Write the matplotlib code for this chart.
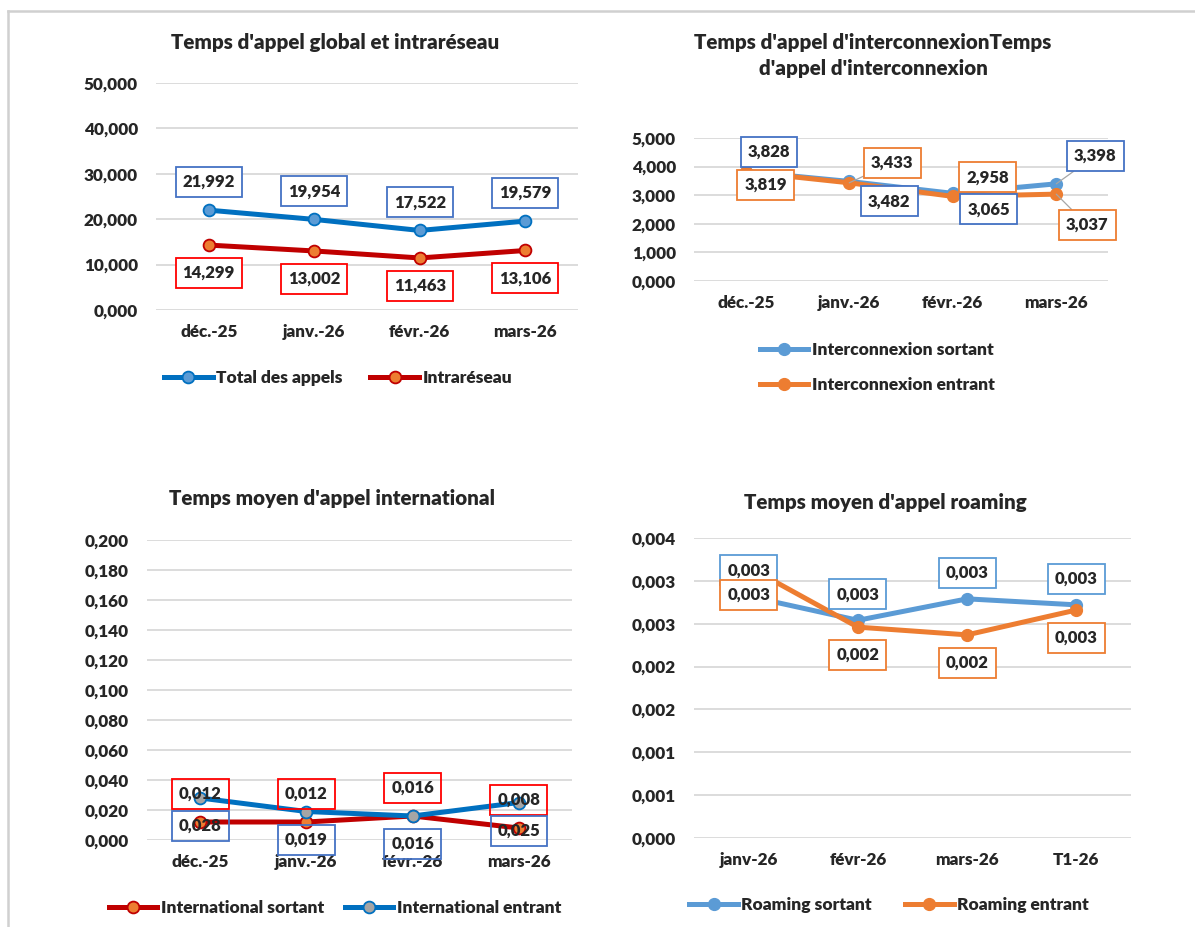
import matplotlib
matplotlib.use("Agg")
import matplotlib.pyplot as plt
from matplotlib.lines import Line2D
from matplotlib.ticker import FuncFormatter, MultipleLocator
from decimal import Decimal, ROUND_HALF_UP

plt.rcParams['font.family'] = ['Lato', 'DejaVu Sans']
WT = 'heavy'
plt.rcParams['font.weight'] = WT

# ---------------- data ----------------
months_a = ['déc.-25', 'janv.-26', 'févr.-26', 'mars-26']
total_appels = [21.992, 19.954, 17.522, 19.579]
intrareseau = [14.299, 13.002, 11.463, 13.106]

ic_sortant = [3.828, 3.482, 3.065, 3.398]
ic_entrant = [3.819, 3.433, 2.958, 3.037]

int_sortant = [0.012, 0.012, 0.016, 0.008]
int_entrant = [0.028, 0.019, 0.016, 0.025]

months_r = ['janv-26', 'févr-26', 'mars-26', 'T1-26']
roam_sortant = [0.00282, 0.00254, 0.00279, 0.00272]
roam_entrant = [0.00316, 0.00246, 0.00237, 0.00266]

W, H = 1195, 927
fig = plt.figure(figsize=(W / 100, H / 100), dpi=100)
fig.patch.set_facecolor('white')

TXT = '#262626'
GRID = '#D9D9D9'
FS_TICK = 12.3
FS_LAB = 12.0
FS_LEG = 12.5
FS_TITLE = 14.8


def fr(v, nd=3):
    q = Decimal(str(round(v, 8))).quantize(Decimal('1.' + '0' * nd), rounding=ROUND_HALF_UP)
    return str(q).replace('.', ',')


def make_ax(x0, x1, y0, y1, ymax, step, cats):
    ax = fig.add_axes([x0 / W, 1 - y1 / H, (x1 - x0) / W, (y1 - y0) / H])
    ax.set_xlim(-0.5, len(cats) - 0.5)
    ax.set_ylim(0, ymax)
    ax.yaxis.set_major_locator(MultipleLocator(step))
    ax.yaxis.set_major_formatter(FuncFormatter(lambda v, p: fr(v)))
    ax.set_xticks(range(len(cats)))
    ax.set_xticklabels(cats)
    for s in ax.spines.values():
        s.set_visible(False)
    ax.tick_params(axis='both', length=0, labelsize=FS_TICK, colors=TXT)
    ax.tick_params(axis='y', pad=13)
    ax.tick_params(axis='x', pad=10)
    ax.grid(axis='y', color=GRID, lw=1.3, zorder=0)
    ax.set_axisbelow(True)
    for lab in ax.get_xticklabels() + ax.get_yticklabels():
        lab.set_fontweight(WT)
    ax.patch.set_alpha(0)
    return ax


def label(ax, x, y, txt, dx, dy, ec, fill=True, leader=False):
    kw = {}
    if leader:
        kw['arrowprops'] = dict(arrowstyle='-', color='#A6A6A6', lw=0.9,
                                shrinkA=0, shrinkB=0)
    ax.annotate(txt, xy=(x, y), xytext=(dx, -dy), textcoords='offset pixels',
                ha='center', va='center', fontsize=FS_LAB, fontweight=WT, color=TXT,
                bbox=dict(boxstyle='square,pad=0.42', fc='white' if fill else 'none',
                          ec=ec, lw=1.3),
                zorder=6, **kw)


def legend(ax, handles, labels, cx, cy, ncol, colsp=1.6, lsp=0.5):
    ax.legend(handles, labels, loc='center', bbox_to_anchor=(cx / W, 1 - cy / H),
              bbox_transform=fig.transFigure, ncol=ncol, frameon=False,
              handlelength=2.8, handletextpad=0.2, columnspacing=colsp,
              labelspacing=lsp, numpoints=1,
              prop={'size': FS_LEG, 'weight': WT}, labelcolor=TXT)


def title(cx, cy, txt, ls=1.15):
    fig.text(cx / W, 1 - cy / H, txt, ha='center', va='center', fontsize=FS_TITLE,
             fontweight=WT, color=TXT, linespacing=ls)


# ---------------- chart 1 ----------------
ax1 = make_ax(156, 578, 83, 310, 50, 10, months_a)
x = range(len(months_a))
l1, = ax1.plot(x, total_appels, color='#0070C0', lw=3.6, marker='o', ms=8.5,
               mfc='#5B9BD5', mec='#0070C0', mew=1.3, zorder=4)
l2, = ax1.plot(x, intrareseau, color='#C00000', lw=3.6, marker='o', ms=8.5,
               mfc='#ED7D31', mec='#C00000', mew=1.3, zorder=4)
for i in x:
    label(ax1, i, total_appels[i], fr(total_appels[i]), 0, -28, '#4472C4')
    label(ax1, i, intrareseau[i], fr(intrareseau[i]), 0, 28, '#FF0000')
title(335, 42, "Temps d'appel global et intraréseau")
legend(ax1, [l1, l2], ['Total des appels', 'Intraréseau'], 338, 378, 2, colsp=1.6)

# ---------------- chart 2 ----------------
ax2 = make_ax(694, 1108, 138, 281, 5, 1, months_a)
l3, = ax2.plot(x, ic_sortant, color='#5B9BD5', lw=3.6, marker='o', ms=8.5,
               mfc='#5B9BD5', mec='#5B9BD5', zorder=4)
l4, = ax2.plot(x, ic_entrant, color='#ED7D31', lw=3.6, marker='o', ms=8.5,
               mfc='#ED7D31', mec='#ED7D31', zorder=4)
off_s = [(23, -20), (40, 20), (36, 16), (39, -28)]
off_e = [(20, 13), (43, -20), (35, -19), (31, 31)]
lead_s = [False, False, False, True]
lead_e = [False, True, False, True]
for i in x:
    label(ax2, i, ic_sortant[i], fr(ic_sortant[i]), *off_s[i], '#4472C4', leader=lead_s[i])
    label(ax2, i, ic_entrant[i], fr(ic_entrant[i]), *off_e[i], '#ED7D31', leader=lead_e[i])
title(873, 55.5, "Temps d'appel d'interconnexionTemps\nd'appel d'interconnexion", ls=1.4)
legend(ax2, [l3, l4], ['Interconnexion sortant', 'Interconnexion entrant'],
       877, 367.5, 1, lsp=1.05)

# ---------------- chart 3 ----------------
ax3 = make_ax(147, 572, 540, 840, 0.2, 0.02, months_a)
l5, = ax3.plot(x, int_sortant, color='#C00000', lw=3.6, marker='o', ms=8.5,
               mfc='#ED7D31', mec='#C00000', mew=1.3, zorder=4)
l6, = ax3.plot(x, int_entrant, color='#0070C0', lw=3.6, marker='o', ms=8.5,
               mfc='#A5A5A5', mec='#0070C0', mew=1.3, zorder=4)
for i in x:
    label(ax3, i, int_sortant[i], fr(int_sortant[i]), 0, -28, '#FF0000', fill=False)
    label(ax3, i, int_entrant[i], fr(int_entrant[i]), 0, 28, '#4472C4', fill=False)
title(332, 499, "Temps moyen d'appel international")
legend(ax3, [l5, l6], ['International sortant', 'International entrant'], 335, 908, 2,
       colsp=1.2)

# ---------------- chart 4 ----------------
ax4 = make_ax(694, 1131, 538, 838, 0.0035, 0.0005, months_r)
xr = range(len(months_r))
l7, = ax4.plot(xr, roam_sortant, color='#5B9BD5', lw=3.6, marker='o', ms=8.5,
               mfc='#5B9BD5', mec='#5B9BD5', zorder=4)
l8, = ax4.plot(xr, roam_entrant, color='#ED7D31', lw=3.6, marker='o', ms=8.5,
               mfc='#ED7D31', mec='#ED7D31', zorder=4)
for i in xr:
    label(ax4, i, roam_sortant[i], fr(roam_sortant[i]), 0, -26, '#5B9BD5')
    label(ax4, i, roam_entrant[i], fr(roam_entrant[i]), 0, 28, '#ED7D31')
title(885, 502, "Temps moyen d'appel roaming")
legend(ax4, [l7, l8], ['Roaming sortant', 'Roaming entrant'], 889, 905, 2, colsp=1.9)

# ---------------- outer border ----------------
fig.add_artist(Line2D([8 / W, 1], [1 - 11 / H, 1 - 11 / H], transform=fig.transFigure,
                      color='#D0D0D0', lw=1.8))
fig.add_artist(Line2D([8 / W, 8 / W], [0, 1 - 11 / H], transform=fig.transFigure,
                      color='#D0D0D0', lw=1.8))

fig.savefig('out.png', dpi=100, facecolor='white')
